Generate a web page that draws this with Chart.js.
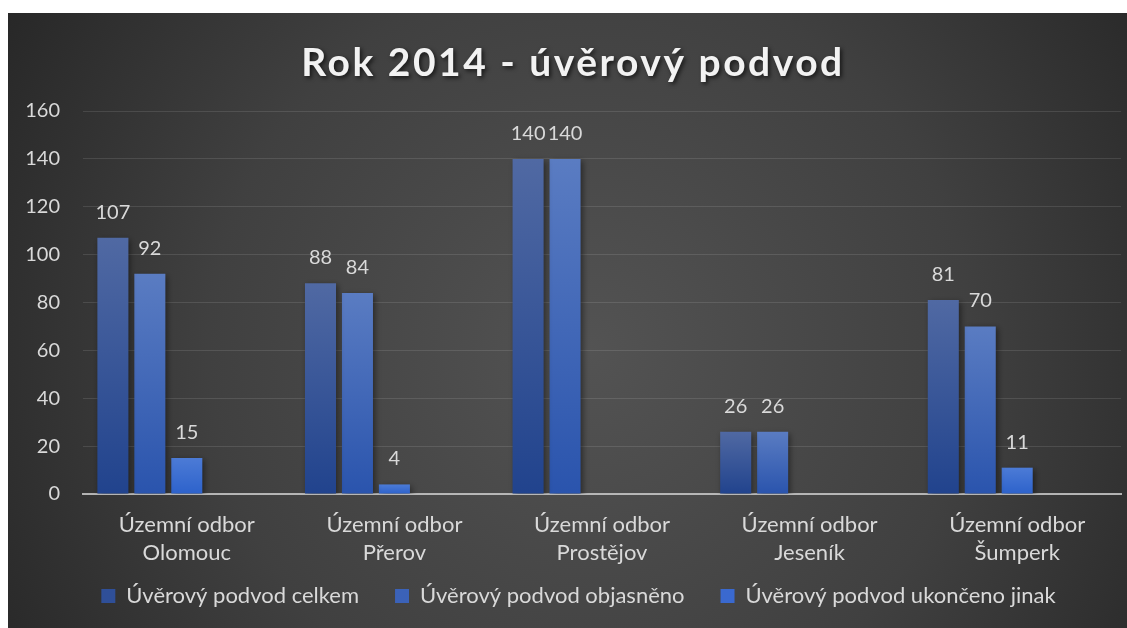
<!DOCTYPE html>
<html>
<head>
<meta charset="utf-8">
<script src="https://cdn.jsdelivr.net/npm/chart.js@4.4.1/dist/chart.umd.min.js"></script>
<style>
  html, body { margin: 0; padding: 0; background: #ffffff; }
  #wrap { position: absolute; left: 8px; top: 13px; width: 1119px; height: 615px; }
</style>
</head>
<body>
<div id="wrap"><canvas id="c"></canvas></div>
<script>
const titleText = 'Rok 2014 - úvěrový podvod';
const categories = [
  ['Územní odbor', 'Olomouc'],
  ['Územní odbor', 'Přerov'],
  ['Územní odbor', 'Prostějov'],
  ['Územní odbor', 'Jeseník'],
  ['Územní odbor', 'Šumperk']
];
const seriesNames = ['Úvěrový podvod celkem', 'Úvěrový podvod objasněno', 'Úvěrový podvod ukončeno jinak'];
const celkem = [107, 88, 140, 26, 81];
const objasneno = [92, 84, 140, 26, 70];
const ukonceno = [15, 4, null, null, 11];
const emptySeries = [null, null, null, null, null];
const yTicks = { min: 0, max: 160, step: 20 };

const FONT = 'Lato, "Noto Sans", sans-serif';
const TXT = '#d9d9d9';

const gradStops = [
  ['#5069a3', '#21438d'],
  ['#5a7cc2', '#2a54ad'],
  ['#4c7bd6', '#2d62cb']
];
const legendColors = ['#2f4f98', '#3b62b8', '#3a69cf'];

function barGradient(idx) {
  return function(ctx) {
    const chart = ctx.chart;
    const y = chart.scales && chart.scales.y;
    if (!y || ctx.raw == null) return gradStops[idx][1];
    const top = y.getPixelForValue(ctx.raw);
    const bot = y.getPixelForValue(0);
    if (!isFinite(top) || !isFinite(bot) || top === bot) return gradStops[idx][1];
    const g = chart.ctx.createLinearGradient(0, top, 0, bot);
    g.addColorStop(0, gradStops[idx][0]);
    g.addColorStop(1, gradStops[idx][1]);
    return g;
  };
}

const bgPlugin = {
  id: 'bg',
  beforeDraw(chart) {
    const c = chart.ctx, w = chart.width, h = chart.height;
    c.save();
    const g = c.createRadialGradient(w * 0.52, h * 0.55, 0, w * 0.52, h * 0.55, w * 0.62);
    g.addColorStop(0, '#535353');
    g.addColorStop(0.55, '#404040');
    g.addColorStop(1, '#262626');
    c.fillStyle = g;
    c.fillRect(0, 0, w, h);
    c.restore();
  }
};

const titlePlugin = {
  id: 'customTitle',
  afterDraw(chart) {
    const c = chart.ctx;
    c.save();
    c.font = 'bold 39px ' + FONT;
    if ('letterSpacing' in c) c.letterSpacing = '2.5px';
    c.fillStyle = '#f2f2f2';
    c.textAlign = 'center';
    c.textBaseline = 'alphabetic';
    c.shadowColor = 'rgba(0,0,0,0.65)';
    c.shadowBlur = 4;
    c.shadowOffsetX = 2;
    c.shadowOffsetY = 2;
    c.fillText(titleText, 565, 63);
    c.restore();
  }
};

const shadowPlugin = {
  id: 'barShadow',
  beforeDatasetsDraw(chart) {
    const c = chart.ctx;
    c.save();
    c.shadowColor = 'rgba(0,0,0,0.45)';
    c.shadowBlur = 6;
    c.shadowOffsetX = 2;
    c.shadowOffsetY = 2;
  },
  afterDatasetsDraw(chart) {
    chart.ctx.restore();
  }
};

const labelPlugin = {
  id: 'valueLabels',
  afterDatasetsDraw(chart) {
    const c = chart.ctx;
    c.save();
    c.font = '20px ' + FONT;
    c.fillStyle = TXT;
    c.textAlign = 'center';
    c.textBaseline = 'alphabetic';
    chart.data.datasets.forEach((ds, di) => {
      const meta = chart.getDatasetMeta(di);
      meta.data.forEach((el, i) => {
        const v = ds.data[i];
        if (v == null) return;
        c.fillText(String(v), el.x, el.y - 19);
      });
    });
    c.restore();
  }
};

// move the legend box so its row sits just below the two-line category labels
const legendShift = {
  id: 'legendShift',
  afterLayout(chart) {
    const lg = chart.legend;
    if (!lg) return;
    const h = lg.height;
    lg.top = chart.chartArea.bottom + 55;
    lg.bottom = lg.top + h;
    lg.left += 14;
    lg.right += 14;
  }
};

new Chart(document.getElementById('c'), {
  type: 'bar',
  data: {
    labels: categories,
    datasets: [
      { label: seriesNames[0], data: celkem, backgroundColor: barGradient(0) },
      { label: seriesNames[1], data: objasneno, backgroundColor: barGradient(1) },
      { label: seriesNames[2], data: ukonceno, backgroundColor: barGradient(2) },
      { label: '', data: emptySeries, backgroundColor: 'rgba(0,0,0,0)' },
      { label: '', data: emptySeries, backgroundColor: 'rgba(0,0,0,0)' }
    ]
  },
  options: {
    responsive: true,
    maintainAspectRatio: false,
    animation: false,
    categoryPercentage: 0.89,
    barPercentage: 0.84,
    layout: { padding: { top: 98, right: 6, bottom: 0, left: 0 } },
    plugins: {
      title: { display: false },
      tooltip: { enabled: false },
      legend: {
        position: 'bottom',
        maxHeight: 61,
        labels: {
          color: TXT,
          font: { family: FONT, size: 22 },
          boxWidth: 14,
          boxHeight: 14,
          padding: 36,
          generateLabels(chart) {
            return seriesNames.map((n, i) => ({
              text: n,
              fillStyle: legendColors[i],
              strokeStyle: legendColors[i],
              lineWidth: 0,
              fontColor: TXT,
              datasetIndex: i,
              hidden: false
            }));
          }
        }
      }
    },
    scales: {
      x: {
        z: 1,
        grid: { display: false, drawTicks: false },
        border: { display: true, color: 'rgba(200,200,200,0.85)', width: 2 },
        ticks: {
          color: TXT,
          font: { family: FONT, size: 22, lineHeight: 1.27 },
          padding: 17,
          maxRotation: 0,
          autoSkip: false
        },
        afterFit(scale) { scale.height = 73; }
      },
      y: {
        min: yTicks.min,
        max: yTicks.max,
        grid: { color: 'rgba(255,255,255,0.11)', lineWidth: 1, drawTicks: false },
        border: { display: false },
        ticks: {
          stepSize: yTicks.step,
          color: TXT,
          font: { family: FONT, size: 20 },
          padding: 23
        },
        afterFit(scale) { scale.width = 75; }
      }
    }
  },
  plugins: [bgPlugin, legendShift, shadowPlugin, labelPlugin, titlePlugin]
});
</script>
</body>
</html>
